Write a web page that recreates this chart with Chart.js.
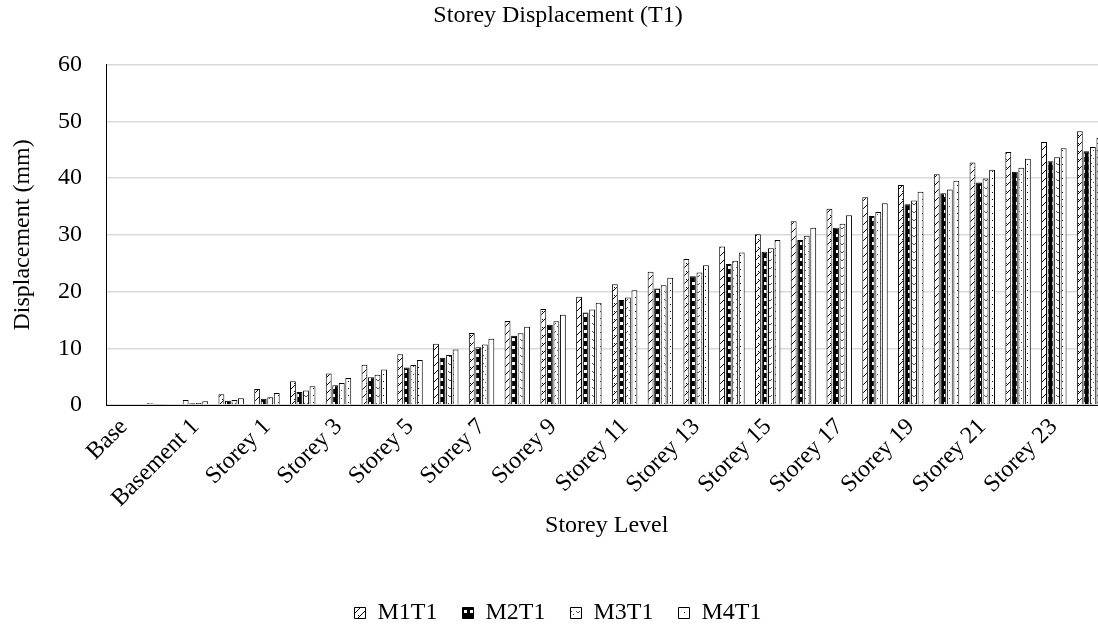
<!DOCTYPE html>
<html>
<head>
<meta charset="utf-8">
<script src="https://cdn.jsdelivr.net/npm/chart.js@4/dist/chart.umd.min.js"></script>
<style>
  html, body { margin: 0; padding: 0; background: #fff; overflow: hidden; }
  #wrap { width: 1098px; height: 639px; overflow: hidden; position: relative; }
  #storeyChart { position: absolute; left: 0; top: 0; }
</style>
</head>
<body>
<div id="wrap"><canvas id="storeyChart" width="1110" height="639"></canvas></div>
<script>
// storey levels, bottom to top
const levels = ['Base', 'Basement 2', 'Basement 1', 'Ground',
  'Storey 1', 'Storey 2', 'Storey 3', 'Storey 4', 'Storey 5', 'Storey 6',
  'Storey 7', 'Storey 8', 'Storey 9', 'Storey 10', 'Storey 11', 'Storey 12',
  'Storey 13', 'Storey 14', 'Storey 15', 'Storey 16', 'Storey 17', 'Storey 18',
  'Storey 19', 'Storey 20', 'Storey 21', 'Storey 22', 'Storey 23', 'Storey 24'];

// displacement in mm
const m1t1 = [0, 0.3, 0.9, 1.9, 2.8, 4.2, 5.55, 7.1, 8.95, 10.8, 12.7, 14.8, 16.95, 19.1,
  21.3, 23.5, 25.75, 27.95, 30.1, 32.4, 34.6, 36.65, 38.8, 40.7, 42.75, 44.6, 46.4, 48.3];
const m2t1 = [0, 0.1, 0.3, 0.75, 1.1, 2.3, 3.5, 4.9, 6.6, 8.35, 10.2, 12.2, 14.15, 16.3,
  18.5, 20.55, 22.7, 24.85, 27.05, 29.1, 31.25, 33.35, 35.4, 37.35, 39.25, 41.15, 43.0, 44.75];
const m3t1 = [0, 0.1, 0.35, 0.9, 1.35, 2.55, 3.9, 5.35, 7.05, 8.8, 10.65, 12.65, 14.75, 16.85,
  18.95, 21.1, 23.35, 25.45, 27.65, 29.85, 31.95, 34.05, 36.05, 38.0, 39.95, 41.85, 43.7, 45.5];
const m4t1 = [0, 0.15, 0.65, 1.2, 2.1, 3.3, 4.75, 6.25, 7.95, 9.8, 11.7, 13.8, 15.9, 18.05,
  20.25, 22.45, 24.65, 26.9, 29.1, 31.25, 33.45, 35.6, 37.6, 39.55, 41.5, 43.45, 45.3, 47.1];

const serif = 'Liberation Serif, Times New Roman, serif';

// fill patterns like the Excel ones
function makePattern(size, draw) {
  const c = document.createElement('canvas');
  c.width = size[0];
  c.height = size[1];
  const g = c.getContext('2d');
  draw(g, size[0], size[1]);
  return g.createPattern(c, 'repeat');
}

const ctx = document.getElementById('storeyChart').getContext('2d');

const hatchPat = makePattern([8, 8], (g, w, h) => {
  g.fillStyle = '#fff';
  g.fillRect(0, 0, w, h);
  g.fillStyle = '#000';
  for (let i = 0; i < 8; i += 2) {
    g.fillRect(i, 7 - i, 1, 1);
    g.fillRect(i + 1, 6 - i, 1, 1);
  }
  g.fillRect(6, 7, 1, 1);
});
const blockPat = makePattern([6, 8], (g, w, h) => {
  g.fillStyle = '#000';
  g.fillRect(0, 0, w, h);
  g.fillStyle = '#fff';
  g.fillRect(2, 2, 3, 3);
});
const wavePat = makePattern([8, 8], (g, w, h) => {
  g.fillStyle = '#fff';
  g.fillRect(0, 0, w, h);
  g.fillStyle = '#555';
  g.fillRect(0, 3, 1, 1);
  g.fillRect(1, 4, 1, 1);
  g.fillRect(2, 4, 1, 1);
  g.fillRect(3, 3, 1, 1);
  g.fillRect(5, 6, 1, 1);
});
const dotPat = makePattern([7, 7], (g, w, h) => {
  g.fillStyle = '#fff';
  g.fillRect(0, 0, w, h);
  g.fillStyle = '#000';
  g.fillRect(5, 3, 1, 1);
});

const barStyle = { borderColor: '#000', borderWidth: 1, categoryPercentage: 0.73, barPercentage: 0.9 };

new Chart(ctx, {
  type: 'bar',
  data: {
    labels: levels,
    datasets: [
      { label: 'M1T1', data: m1t1, backgroundColor: hatchPat, ...barStyle },
      { label: 'M2T1', data: m2t1, backgroundColor: blockPat, ...barStyle },
      { label: 'M3T1', data: m3t1, backgroundColor: wavePat, ...barStyle },
      { label: 'M4T1', data: m4t1, backgroundColor: dotPat, ...barStyle }
    ]
  },
  options: {
    responsive: false,
    animation: false,
    layout: { padding: { left: 8, right: 2, top: 0, bottom: 4 } },
    plugins: {
      tooltip: { enabled: false },
      title: {
        display: true,
        text: 'Storey Displacement (T1)',
        color: '#000',
        font: { family: serif, size: 24, weight: 'normal' },
        padding: { top: 1, bottom: 35 }
      },
      legend: {
        position: 'bottom',
        labels: {
          color: '#000',
          font: { family: serif, size: 24 },
          boxWidth: 11,
          boxHeight: 11,
          padding: 25
        }
      }
    },
    scales: {
      x: {
        grid: { display: false },
        border: { color: '#000', width: 1 },
        ticks: {
          color: '#000',
          font: { family: serif, size: 24 },
          minRotation: 45,
          maxRotation: 45,
          autoSkip: false,
          padding: 0,
          callback: function (val, i) {
            return i % 2 === 0 ? this.getLabelForValue(val) : '';
          }
        },
        title: {
          display: true,
          text: 'Storey Level',
          color: '#000',
          font: { family: serif, size: 24 },
          padding: { top: 0, bottom: 36 }
        },
        afterFit: (s) => { s.height = 171; }
      },
      y: {
        min: 0,
        max: 60,
        grid: { color: '#d9d9d9', lineWidth: 1.5, drawTicks: false },
        border: { color: '#000', width: 1 },
        ticks: {
          stepSize: 10,
          color: '#000',
          font: { family: serif, size: 24 },
          padding: 24
        },
        title: {
          display: true,
          text: 'Displacement (mm)',
          color: '#000',
          font: { family: serif, size: 24 },
          padding: 0
        },
        afterFit: (s) => { s.width = 98; }
      }
    }
  }
});
</script>
</body>
</html>
